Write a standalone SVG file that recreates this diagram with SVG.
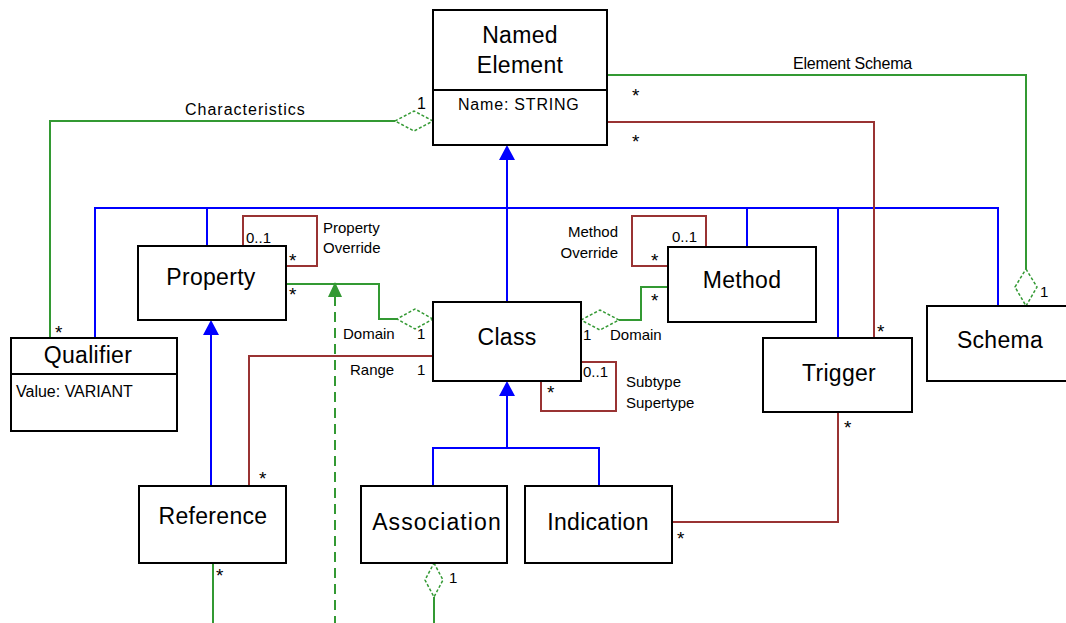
<svg xmlns="http://www.w3.org/2000/svg" width="1066" height="623" viewBox="0 0 1066 623">
<style>
.box{fill:#fff;stroke:#000;stroke-width:2}
.g{fill:none;stroke:#339933;stroke-width:2}
.r{fill:none;stroke:#993333;stroke-width:2}
.b{fill:none;stroke:#0000ff;stroke-width:2}
.dia{fill:#fff;stroke:#339933;stroke-width:1.5;stroke-dasharray:3,2}
.dash{fill:none;stroke:#339933;stroke-width:2;stroke-dasharray:10,6}
.bt{fill:#0000ff}
.gt{fill:#339933}
text{font-family:"Liberation Sans",Arial,sans-serif;fill:#000}
.n{font-size:23px;text-anchor:middle;letter-spacing:0.3px}
.a{font-size:16px}
.s{font-size:15px}
.st{font-size:19px}
</style>
<rect width="1066" height="623" fill="#fff"/>
<g id="connectors">
<polyline class="b" points="95,338 95,208 998,208 998,306"/>
<line class="b" x1="207" y1="208" x2="207" y2="246"/>
<line class="b" x1="747" y1="208" x2="747" y2="247"/>
<line class="b" x1="838" y1="208" x2="838" y2="338"/>
<line class="b" x1="507" y1="302" x2="507" y2="155"/>
<polygon class="bt" points="507,145 499,160 515,160"/>
<line class="b" x1="211" y1="486" x2="211" y2="330"/>
<polygon class="bt" points="211,320 203,335 219,335"/>
<polyline class="b" points="433,486 433,448 599,448 599,486"/>
<line class="b" x1="507" y1="448" x2="507" y2="391"/>
<polygon class="bt" points="507,381 499,396 515,396"/>
<polyline class="g" points="395,121 50,121 50,338"/>
<polygon class="dia" points="433,121 414,111 395,121 414,131"/>
<polyline class="g" points="607,75 1026,75 1026,269"/>
<polygon class="dia" points="1026,269 1037,287 1026,306 1015,287"/>
<polyline class="r" points="607,122 874,122 874,338"/>
<polyline class="r" points="243,246 243,216 317,216 317,266 286,266"/>
<polyline class="g" points="286,284 379,284 379,319 397,319"/>
<polygon class="dia" points="433,319 415,309 397,319 415,329"/>
<line class="dash" x1="335" y1="296" x2="335" y2="623"/>
<polygon class="gt" points="335,282 328,297 342,297"/>
<polyline class="r" points="706,247 706,216 632,216 632,266 668,266"/>
<polyline class="g" points="668,287 641,287 641,320 619,320"/>
<polygon class="dia" points="581,320 600,310 619,320 600,330"/>
<polyline class="r" points="433,356 249,356 249,486"/>
<polyline class="r" points="541,381 541,411 616,411 616,362 581,362"/>
<polyline class="r" points="672,522 838,522 838,412"/>
<line class="g" x1="213" y1="563" x2="213" y2="623"/>
<line class="g" x1="434" y1="597" x2="434" y2="623"/>
<polygon class="dia" points="434,563 443,580 434,597 425,580"/>
</g>
<g id="NamedElement">
<rect class="box" x="433" y="10" width="174" height="135"/>
<line x1="433" y1="90" x2="607" y2="90" stroke="#000" stroke-width="2"/>
<text class="n" x="520" y="43">Named</text>
<text class="n" x="520" y="73">Element</text>
<text class="a" x="458" y="110" letter-spacing="0.8">Name: STRING</text>
</g>
<g id="Property">
<rect class="box" x="138" y="246" width="148" height="74"/>
<text class="n" x="211" y="285">Property</text>
</g>
<g id="Method">
<rect class="box" x="668" y="247" width="148" height="75"/>
<text class="n" x="742" y="288">Method</text>
</g>
<g id="Class">
<rect class="box" x="433" y="302" width="148" height="79"/>
<text class="n" x="507" y="345">Class</text>
</g>
<g id="Qualifier">
<rect class="box" x="11" y="338" width="166" height="93"/>
<line x1="11" y1="374" x2="177" y2="374" stroke="#000" stroke-width="2"/>
<text class="n" x="88" y="363">Qualifier</text>
<text class="a" x="16" y="397">Value: VARIANT</text>
</g>
<g id="Trigger">
<rect class="box" x="763" y="338" width="149" height="74"/>
<text class="n" x="839" y="381">Trigger</text>
</g>
<g id="Schema">
<rect class="box" x="927" y="306" width="141" height="75"/>
<text class="n" x="1000" y="348">Schema</text>
</g>
<g id="Reference">
<rect class="box" x="139" y="486" width="147" height="77"/>
<text class="n" x="213" y="524">Reference</text>
</g>
<g id="Association">
<rect class="box" x="361" y="486" width="146" height="77"/>
<text class="n" x="437" y="530" style="letter-spacing:1.1px">Association</text>
</g>
<g id="Indication">
<rect class="box" x="525" y="486" width="147" height="77"/>
<text class="n" x="598" y="530">Indication</text>
</g>
<g id="labels">
<text class="a" x="185" y="115" letter-spacing="1">Characteristics</text>
<text class="a" x="417" y="109">1</text>
<text class="a" x="793" y="69" letter-spacing="-0.2">Element Schema</text>
<text class="st" x="632" y="102">*</text>
<text class="st" x="632" y="148">*</text>
<text class="s" x="323" y="233">Property</text>
<text class="s" x="323" y="253">Override</text>
<text class="s" x="246" y="243">0..1</text>
<text class="st" x="289" y="267">*</text>
<text class="st" x="289" y="301">*</text>
<text class="s" x="343" y="339">Domain</text>
<text class="s" x="417" y="339">1</text>
<text class="s" x="350" y="375">Range</text>
<text class="s" x="417" y="375">1</text>
<text class="s" x="618" y="237" text-anchor="end">Method</text>
<text class="s" x="618" y="258" text-anchor="end">Override</text>
<text class="s" x="672" y="242">0..1</text>
<text class="st" x="651" y="267">*</text>
<text class="st" x="651" y="307">*</text>
<text class="s" x="583" y="340">1</text>
<text class="s" x="610" y="340">Domain</text>
<text class="st" x="547" y="399">*</text>
<text class="s" x="583" y="377">0..1</text>
<text class="s" x="626" y="387">Subtype</text>
<text class="s" x="626" y="408">Supertype</text>
<text class="st" x="55" y="339">*</text>
<text class="st" x="259" y="485">*</text>
<text class="st" x="216" y="582">*</text>
<text class="s" x="449" y="583">1</text>
<text class="st" x="677" y="545">*</text>
<text class="st" x="877" y="338">*</text>
<text class="st" x="844" y="434">*</text>
<text class="s" x="1040" y="297">1</text>
</g>
</svg>
